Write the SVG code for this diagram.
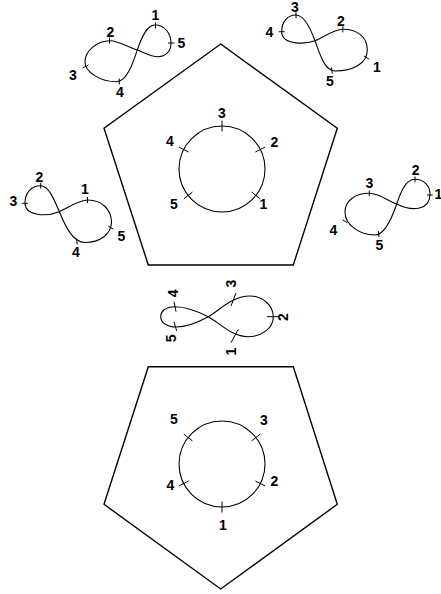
<svg xmlns="http://www.w3.org/2000/svg" width="441" height="594" viewBox="0 0 441 594">
<style>
.pent{fill:none;stroke:#000;stroke-width:1.4;stroke-linejoin:miter}
.circ{fill:none;stroke:#000;stroke-width:1.1}
.eight{fill:none;stroke:#000;stroke-width:1.1}
.tick{stroke:#000;stroke-width:1}
text{font-family:"Liberation Sans",Arial,sans-serif;font-weight:bold;font-size:14px;text-anchor:middle;fill:#000}
</style>
<rect width="441" height="594" fill="#fff"/>

<g id="pentagon-top">
<polygon class="pent" points="220.7,44 337.3,128.3 293.3,265 148.3,265 104,128.3"/>
</g>
<g id="circle-top">
<circle class="circ" cx="222" cy="169" r="43"/>
<line class="tick" x1="222" y1="120.5" x2="222" y2="131.5"/>
<line class="tick" x1="255.4" y1="152" x2="265.2" y2="147"/>
<line class="tick" x1="251.6" y1="192.1" x2="260.2" y2="198.9"/>
<line class="tick" x1="192.4" y1="192.1" x2="183.8" y2="198.9"/>
<line class="tick" x1="188.6" y1="152" x2="178.8" y2="147"/>
<text x="222" y="117.7">3</text>
<text x="274.5" y="146.7">2</text>
<text x="263.5" y="209">1</text>
<text x="173.8" y="209">5</text>
<text x="170" y="146">4</text>
</g>

<g id="pentagon-bottom">
<polygon class="pent" points="148.3,366.7 293.3,366.7 337.3,504.3 220.7,589 104,504.3"/>
</g>
<g id="circle-bottom">
<circle class="circ" cx="222" cy="464" r="43"/>
<line class="tick" x1="222" y1="501.5" x2="222" y2="512.5"/>
<line class="tick" x1="255.4" y1="481" x2="265.2" y2="486"/>
<line class="tick" x1="251.6" y1="440.9" x2="260.2" y2="434.1"/>
<line class="tick" x1="192.4" y1="440.9" x2="183.8" y2="434.1"/>
<line class="tick" x1="188.6" y1="481" x2="178.8" y2="486"/>
<text x="173.8" y="424">5</text>
<text x="264" y="425">3</text>
<text x="274.3" y="486">2</text>
<text x="170.5" y="490">4</text>
<text x="223" y="530">1</text>
</g>

<g id="eight-top-left">
<path class="eight" d="M137.3,50 C140.5,40.5 146,25 155,25 C164,25 171,33 171,43 C171,52 165,56.7 158.3,56.7 C151,56.7 143,52 137.3,50 C129.3,47.4 118,40.7 110,40.7 C98,40.7 85,50 85,62 C85,72 100,81.7 117,81.7 C127,81.7 133.5,61.4 137.3,50 Z"/>
<line class="tick" x1="155.5" y1="22.5" x2="155.5" y2="28.5"/>
<line class="tick" x1="168" y1="43" x2="174.5" y2="43"/>
<line class="tick" x1="109.5" y1="37.8" x2="109.5" y2="43.6"/>
<line class="tick" x1="82.5" y1="68" x2="88.5" y2="65"/>
<line class="tick" x1="119.3" y1="78.5" x2="119.3" y2="84.5"/>
<text x="155.5" y="19.5">1</text>
<text x="181.5" y="48">5</text>
<text x="110.5" y="37">2</text>
<text x="73" y="80">3</text>
<text x="120" y="97">4</text>
</g>

<g id="eight-top-right">
<path class="eight" d="M315,40.7 C318.9,51 324,71 335,71 C352,71 367.3,64 367.3,50 C367.3,36 356,29.3 343,29.3 C334,29.3 322.5,37.9 315,40.7 C305,44.5 281.7,45 281.7,31.7 C281.7,21 288,15 296,15 C305,15 311.2,30.4 315,40.7 Z"/>
<line class="tick" x1="296" y1="12.2" x2="296" y2="18"/>
<line class="tick" x1="278.8" y1="31.7" x2="284.6" y2="31.7"/>
<line class="tick" x1="342.8" y1="26.5" x2="342.8" y2="32.3"/>
<line class="tick" x1="364" y1="56" x2="369.3" y2="59.3"/>
<line class="tick" x1="331.5" y1="67.5" x2="332.3" y2="73.5"/>
<text x="295" y="11.5">3</text>
<text x="269.3" y="36.5">4</text>
<text x="341" y="25.7">2</text>
<text x="377" y="71.5">1</text>
<text x="330" y="86">5</text>
</g>

<g id="eight-left">
<path class="eight" d="M59.3,211.7 C55,201.5 49,185.7 40.7,185.7 C31,185.7 25,193 25,203 C25,216 46.3,216.9 59.3,211.7 C67,208.6 78,200 88,200 C102,200 111.5,210 111.5,222 C111.5,234 100,242.5 85,242.5 C72,242.5 64.4,223.7 59.3,211.7 Z"/>
<line class="tick" x1="40.7" y1="182.8" x2="40.7" y2="188.6"/>
<line class="tick" x1="22.2" y1="203.3" x2="28" y2="203.3"/>
<line class="tick" x1="87.5" y1="197" x2="87.5" y2="203"/>
<line class="tick" x1="108.2" y1="226" x2="113.4" y2="229.2"/>
<line class="tick" x1="76.6" y1="238.5" x2="77.2" y2="244.5"/>
<text x="39.5" y="181.5">2</text>
<text x="13.3" y="206">3</text>
<text x="85" y="194">1</text>
<text x="121.5" y="240.5">5</text>
<text x="76" y="257.3">4</text>
</g>

<g id="eight-right">
<path class="eight" d="M396.7,204 C400.1,194 405,179.3 415,179.3 C424,179.3 430,186 430,194 C430,210 413,212 396.7,204 C388,200.8 379,193.3 369.3,193.3 C355,193.3 345,201 345,212 C345,225 360,235 375,235 C385,235 393,214.9 396.7,204 Z"/>
<line class="tick" x1="415" y1="176.5" x2="415" y2="182.3"/>
<line class="tick" x1="427" y1="195" x2="432.8" y2="195"/>
<line class="tick" x1="369.3" y1="190.5" x2="369.3" y2="196.3"/>
<line class="tick" x1="342.5" y1="219.8" x2="347.5" y2="222.8"/>
<line class="tick" x1="378.3" y1="231" x2="379" y2="237"/>
<text x="369.3" y="188.3">3</text>
<text x="415.7" y="175">2</text>
<text x="438.5" y="198.5">1</text>
<text x="333.3" y="235">4</text>
<text x="379.3" y="250">5</text>
</g>

<g id="eight-middle">
<path class="eight" d="M208.3,316.7 C220.3,310.1 232,296 250,296 C262,296 273.3,305 273.3,316.7 C273.3,328 262,336.7 248,336.7 C232,336.7 220,323.3 208.3,316.7 C198,311.5 186,306.7 175,306.7 C166,306.7 160.7,311 160.7,316.7 C160.7,322.5 167,327 176,327 C187,327 198,322.3 208.3,316.7 Z"/>
<line class="tick" x1="267" y1="316.7" x2="279" y2="316.7"/>
<line class="tick" x1="231" y1="306" x2="236" y2="293"/>
<line class="tick" x1="231" y1="342.7" x2="238.3" y2="329.3"/>
<line class="tick" x1="174" y1="301.7" x2="176" y2="311.7"/>
<line class="tick" x1="174" y1="321.7" x2="176.7" y2="331"/>
<text transform="translate(231,283.5) rotate(-90)" y="5">3</text>
<text transform="translate(282.5,317) rotate(-90)" y="5">2</text>
<text transform="translate(231,351.5) rotate(-90)" y="5">1</text>
<text transform="translate(173.3,293.3) rotate(-90)" y="5">4</text>
<text transform="translate(170.7,338.3) rotate(-90)" y="5">5</text>
</g>
</svg>
